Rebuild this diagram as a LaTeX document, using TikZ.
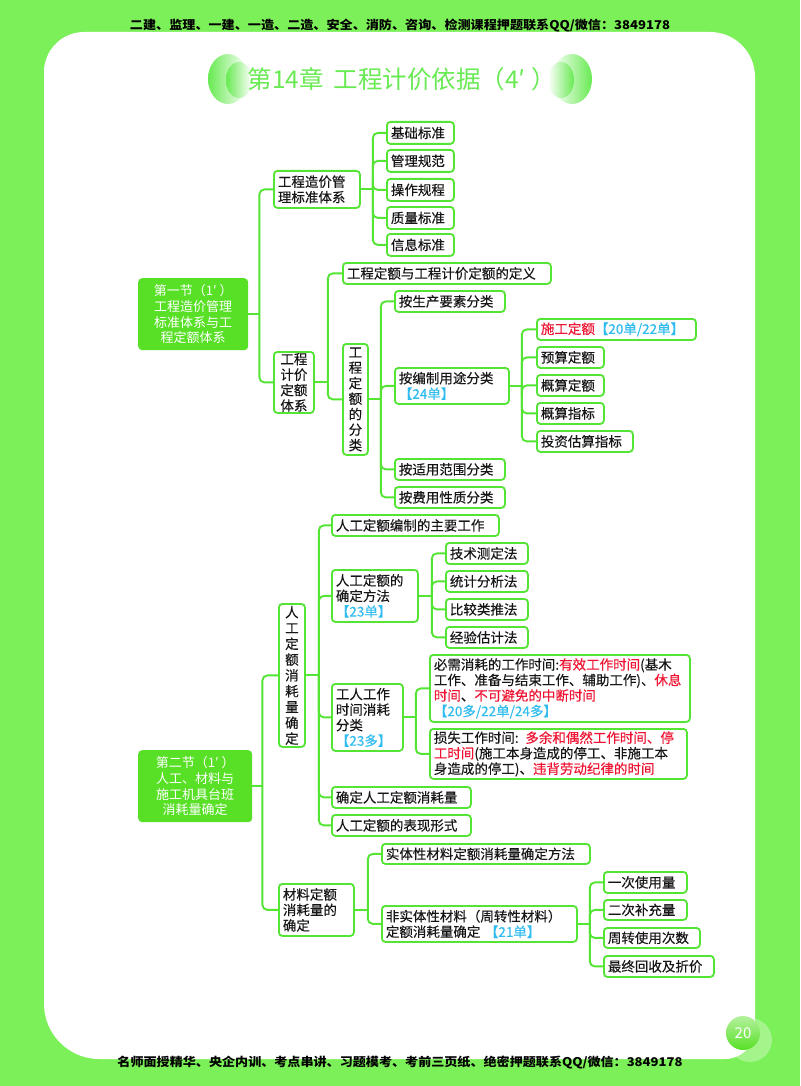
\documentclass[tikz,border=0pt]{standalone}
\usepackage{graphicx}
\usepackage{fontspec}
\setmainfont{Noto Sans CJK SC}
\newfontfamily\nodefont{Noto Sans CJK SC}[FakeBold=0.25]
\usetikzlibrary{calc}
\definecolor{bg}{RGB}{124,240,88}
\definecolor{ln}{RGB}{84,228,52}
\definecolor{sec}{RGB}{88,224,38}
\definecolor{rd}{RGB}{238,20,50}
\definecolor{cy}{RGB}{48,188,238}
\definecolor{tx}{RGB}{22,22,22}
\definecolor{tg}{RGB}{104,234,82}
\newcommand{\fork}[3]{%
  \draw[conn] (#1.east) -- ++(#2,0);
  \foreach \cc in {#3}{\draw[conn] ([xshift=#2pt]#1.east) |- (\cc.west);}%
}
\begin{document}
\begin{tikzpicture}[x=1pt,y=-1pt,
  conn/.style={draw=ln,line width=1.9pt,rounded corners=5pt},
  bx/.style={draw=ln,line width=1.8pt,rounded corners=3.5pt,fill=white,anchor=north west,
    inner xsep=4pt,inner ysep=0pt,font=\nodefont\fontsize{13.5}{15.5}\selectfont,text=tx,align=left},
  vbx/.style={bx,align=center,inner xsep=0pt},
  secbox/.style={fill=sec,rounded corners=4pt,anchor=north west,inner sep=0pt,
    font=\fontsize{13}{15.7}\selectfont,text=white,align=center},
  sb/.style n args={3}{minimum width=#1,text width=#2,minimum height=#3}]
\useasboundingbox (0,0) rectangle (800,1086);
\fill[bg] (0,0) rectangle (800,1086);
% white panel
\fill[white] (84,32) -- (710,32) .. controls (735,32) and (755,52) .. (755,77)
  -- (755,1029) .. controls (755,1045.6) and (741.6,1059) .. (725,1059)
  -- (99,1059) .. controls (69,1059) and (44,1034) .. (44,1004)
  -- (44,72) .. controls (44,50) and (62,32) .. (84,32) -- cycle;
% header / footer
\node[text=black] (hdr) at (400,26) {\resizebox{540pt}{10.5pt}{\bfseries 二建、监理、一建、一造、二造、安全、消防、咨询、检测课程押题联系QQ/微信：3849178}};
\node[text=black] (ftr) at (400,1063) {\resizebox{565pt}{10.5pt}{\bfseries 名师面授精华、央企内训、考点串讲、习题模考、考前三页纸、绝密押题联系QQ/微信：3849178}};
% page number
\fill[white,opacity=0.3] (750,1040) circle (22pt);
\shade[top color=white!55!sec,bottom color=sec] (743,1033) circle (17pt);
\node[text=white,font=\fontsize{15}{15}\selectfont] (pg) at (743,1033) {20};
% title
\shade[left color=tg,right color=white] (228,79) ellipse (20pt and 25pt);
\shade[left color=tg,right color=white] (239,80) ellipse (13pt and 18pt);
\shade[right color=tg,left color=white] (572,79) ellipse (20pt and 25pt);
\shade[right color=tg,left color=white] (561,80) ellipse (13pt and 18pt);
\node[text=tg,font=\fontsize{24.5}{24.5}\selectfont] (ttl) at (402,79) {第14章\hspace{10pt}工程计价依据（4′\hspace{6pt}）};

% ===== Section 1 =====
\node[secbox,minimum width=110,minimum height=72] (s1) at (138,278) {第一节（1′\hspace{3pt}）\\工程造价管理\\标准体系与工\\程定额体系};
\node[bx,sb={86}{78}{37}] (a1) at (273,170) {工程造价管\\理标准体系};
\node[bx,sb={67}{59}{22}] (a11) at (386,121) {基础标准};
\node[bx,sb={67}{59}{22}] (a12) at (386,149) {管理规范};
\node[bx,sb={67}{59}{22}] (a13) at (386,178) {操作规程};
\node[bx,sb={67}{59}{22}] (a14) at (386,206) {质量标准};
\node[bx,sb={67}{59}{22}] (a15) at (386,233) {信息标准};
\node[vbx,minimum width=40,minimum height=61] (a2) at (273,351) {工程\\计价\\定额\\体系};
\node[bx,sb={208}{200}{21}] (b1) at (342,262) {工程定额与工程计价定额的定义};
\node[vbx,minimum width=25,minimum height=111] (b2) at (342,343) {工\\程\\定\\额\\的\\分\\类};
\node[bx,sb={110}{102}{21}] (c1) at (394,290) {按生产要素分类};
\node[bx,sb={114}{106}{36}] (c2) at (394,367) {按编制用途分类\\\textcolor{cy}{【24单】}};
\node[bx,sb={110}{102}{21}] (c3) at (394,458) {按适用范围分类};
\node[bx,sb={110}{102}{21}] (c4) at (394,486) {按费用性质分类};
\node[bx,sb={159}{151}{21}] (d1) at (536,318) {\textcolor{rd}{施工定额}\textcolor{cy}{【20单/22单】}};
\node[bx,sb={67}{59}{21}] (d2) at (536,346) {预算定额};
\node[bx,sb={67}{59}{21}] (d3) at (536,374) {概算定额};
\node[bx,sb={67}{59}{21}] (d4) at (536,402) {概算指标};
\node[bx,sb={96}{88}{21}] (d5) at (536,430) {投资估算指标};

% ===== Section 2 =====
\node[secbox,minimum width=114,minimum height=72] (s2) at (138,750) {第二节（1′\hspace{3pt}）\\人工、材料与\\施工机具台班\\消耗量确定};
\node[vbx,minimum width=26,minimum height=143,font=\nodefont\fontsize{13.5}{15.8}\selectfont] (e1) at (278,603) {人\\工\\定\\额\\消\\耗\\量\\确\\定};
\node[bx,sb={75}{67}{52}] (e2) at (278,883) {材料定额\\消耗量的\\确定};
\node[bx,sb={167}{159}{21}] (f1) at (331,514) {人工定额编制的主要工作};
\node[bx,sb={86}{78}{52}] (f2) at (331,569) {人工定额的\\确定方法\\\textcolor{cy}{【23单】}};
\node[bx,sb={82}{74}{21}] (f21) at (445,542) {技术测定法};
\node[bx,sb={82}{74}{21}] (f22) at (445,570) {统计分析法};
\node[bx,sb={82}{74}{21}] (f23) at (445,598) {比较类推法};
\node[bx,sb={82}{74}{21}] (f24) at (445,626) {经验估计法};
\node[bx,sb={71}{63}{67}] (f3) at (331,683) {工人工作\\时间消耗\\分类\\\textcolor{cy}{【23多】}};
\node[bx,sb={260}{252}{67}] (g1) at (429,654) {必需消耗的工作时间:\textcolor{rd}{有效工作时间}(基木\\工作、准备与结束工作、辅助工作)、\textcolor{rd}{休息}\\\textcolor{rd}{时间}、\textcolor{rd}{不可避免的中断时间}\\\textcolor{cy}{【20多/22单/24多】}};
\node[bx,sb={257}{249}{50}] (g2) at (429,728) {损失工作时间: \textcolor{rd}{多余和偶然工作时间、停}\\\textcolor{rd}{工时间}(施工本身造成的停工、非施工本\\身造成的停工)、\textcolor{rd}{违背劳动纪律的时间}};
\node[bx,sb={139}{131}{21}] (f4) at (331,786) {确定人工定额消耗量};
\node[bx,sb={139}{131}{21}] (f5) at (331,814) {人工定额的表现形式};
\node[bx,sb={208}{200}{20}] (h1) at (381,843) {实体性材料定额消耗量确定方法};
\node[bx,sb={195}{187}{36}] (h2) at (381,905) {非实体性材料（周转性材料）\\定额消耗量确定 \textcolor{cy}{【21单】}};
\node[bx,sb={83}{75}{21}] (i1) at (603,871) {一次使用量};
\node[bx,sb={83}{75}{20}] (i2) at (603,899) {二次补充量};
\node[bx,sb={96}{88}{20}] (i3) at (603,927) {周转使用次数};
\node[bx,sb={110}{102}{21}] (i4) at (603,955) {最终回收及折价};

% ===== connectors =====
\fork{s1}{11}{a1,a2}
\fork{a1}{12}{a11,a12,a13,a14,a15}
\fork{a2}{13}{b1,b2}
\fork{b2}{12}{c1,c2,c3,c4}
\fork{c2}{12}{d1,d2,d3,d4,d5}
\fork{s2}{10}{e1,e2}
\fork{e1}{13}{f1,f2,f3,f4,f5}
\fork{f2}{13}{f21,f22,f23,f24}
\fork{f3}{12}{g1,g2}
\fork{e2}{13}{h1,h2}
\fork{h2}{12}{i1,i2,i3,i4}
\end{tikzpicture}
\end{document}
